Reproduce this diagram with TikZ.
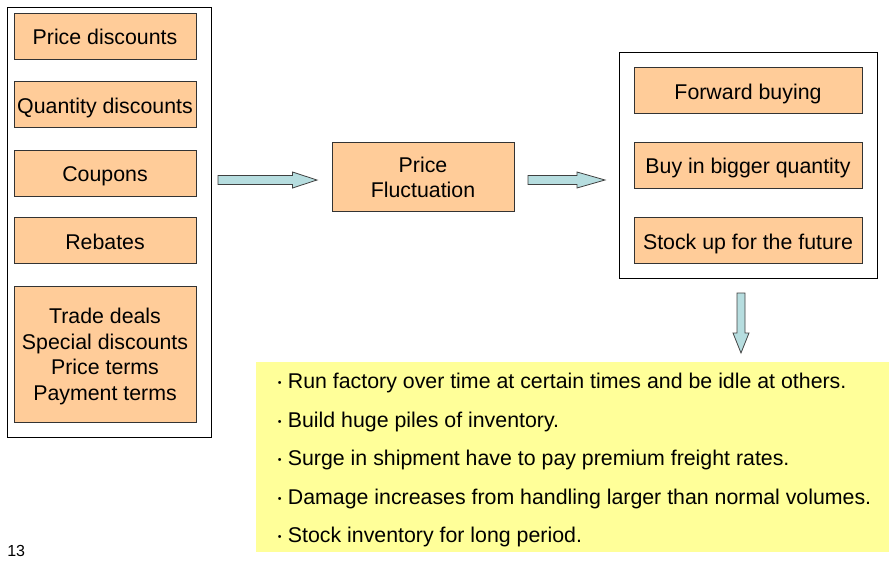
\documentclass[tikz,border=0pt]{standalone}
\usepackage{fontspec}
\setmainfont{Liberation Sans}
\usetikzlibrary{calc}
\definecolor{boxorange}{HTML}{FFCC99}
\definecolor{arrowblue}{HTML}{B6DDDF}
\definecolor{noteyellow}{HTML}{FFFF99}
\begin{document}
\begin{tikzpicture}[x=0.75pt,y=-0.75pt,line join=miter,
  frame/.style={draw=black,line width=0.75pt},
  cause/.style={draw=black!80,fill=boxorange,line width=0.75pt,minimum width=136.5pt,minimum height=34.5pt,inner sep=0pt,align=center,font=\fontsize{16}{19.1}\selectfont},
  oneline/.style={text height=16.4pt,text depth=3.4pt},
  reaction/.style={cause,oneline,minimum width=171pt},
  fatarrow/.style={draw=black!75,fill=arrowblue,line width=0.6pt},
  effect/.style={anchor=west,inner sep=0pt,font=\fontsize{16}{19}\selectfont},
]
\useasboundingbox (0,0) rectangle (889,562);
%%
\draw [frame] (7,7) rectangle (211,437);
\node (price_disc) at (105,36) [cause,oneline] {Price discounts};
\node (qty_disc) at (105,104.5) [cause,oneline] {Quantity discounts};
\node (coupons) at (105,173) [cause,oneline] {Coupons};
\node (rebates) at (105,240.5) [cause,oneline] {Rebates};
\node (trade) at (105,354) [cause,minimum height=102pt] {\rule{0pt}{15.5pt}Trade deals\\Special discounts\\Price terms\\Payment terms};
%
\node (fluct) at (423,176.5) [cause,minimum height=51.75pt] {\rule{0pt}{13.2pt}Price\\Fluctuation};
%
\draw [frame] (619,52) rectangle (877,278);
\node (fwd_buy) at (748,89.5) [reaction,yshift=-1pt] {Forward buying};
\node (bigger_qty) at (748,165) [reaction] {Buy in bigger quantity};
\node (stock_up) at (748,240.8) [reaction] {Stock up for the future};
%
\coordinate (arr1_s) at (218,180);
\coordinate (arr1_t) at (317,180);
\draw [fatarrow] ($(arr1_s)+(0,-4.5)$) -- ($(arr1_t)+(-24.5,-4.5)$) -- ($(arr1_t)+(-24.5,-8)$) -- (arr1_t)
  -- ($(arr1_t)+(-24.5,8)$) -- ($(arr1_t)+(-24.5,4.5)$) -- ($(arr1_s)+(0,4.5)$) -- cycle;
\coordinate (arr2_s) at (528,180);
\coordinate (arr2_t) at (605,180);
\draw [fatarrow] ($(arr2_s)+(0,-4.5)$) -- ($(arr2_t)+(-28,-4.5)$) -- ($(arr2_t)+(-28,-8)$) -- (arr2_t)
  -- ($(arr2_t)+(-28,8)$) -- ($(arr2_t)+(-28,4.5)$) -- ($(arr2_s)+(0,4.5)$) -- cycle;
\coordinate (arr3_s) at (741,293);
\coordinate (arr3_t) at (741,353);
\draw [fatarrow] ($(arr3_s)+(-4,0)$) -- ($(arr3_t)+(-4,-20)$) -- ($(arr3_t)+(-8,-20)$) -- (arr3_t)
  -- ($(arr3_t)+(8,-20)$) -- ($(arr3_t)+(4,-20)$) -- ($(arr3_s)+(4,0)$) -- cycle;
%
\fill [noteyellow] (256,362) rectangle (889,552);
\foreach \txt [count=\i] in {Run factory over time at certain times and be idle at others.,
  Build huge piles of inventory.,
  Surge in shipment have to pay premium freight rates.,
  Damage increases from handling larger than normal volumes.,
  Stock inventory for long period.}
  \node (effect_\i) at (277.5,{383+38.5*(\i-1)}) [effect] {\makebox[7.6pt][l]{\raisebox{1.3pt}{\fontsize{8}{8}\selectfont •}}\txt};
%
\node (page_no) at (7,557) [anchor=south west,inner sep=0pt,font=\fontsize{12}{14}\selectfont] {13};
%
\end{tikzpicture}
\end{document}
